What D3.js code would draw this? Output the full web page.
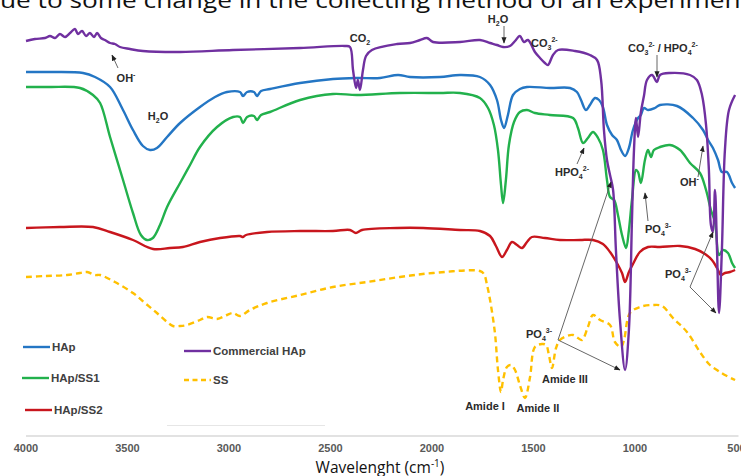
<!DOCTYPE html>
<html><head><meta charset="utf-8">
<script src="https://cdn.jsdelivr.net/npm/d3@7"></script>
<style>
html,body{margin:0;padding:0;background:#fff;overflow:hidden}
svg text{font-family:Arial,"Liberation Sans",sans-serif}
</style></head>
<body>
<svg id="c" width="741" height="476"></svg>
<script>
// Wavenumber (cm-1) vs transmittance (arbitrary, offset traces)
const commercialHAp = [[4000,395],[3956,397],[3906,398],[3882,400],[3857,398],[3833,402],[3808,399],[3783,403],[3759,407],[3744,402],[3724,405],[3704,400],[3685,403],[3665,399],[3650,403],[3631,398],[3611,396],[3586,393],[3562,392],[3537,389],[3488,387],[3424,385],[3241,384],[2980,386],[2650,388],[2429,390],[2404,389],[2389,366],[2374,348],[2365,356],[2355,346],[2340,366],[2325,380],[2296,386],[2172,392],[2108,393],[2059,396],[2025,398],[1995,394],[1862,394],[1764,396],[1714,393],[1680,391],[1650,389],[1616,390],[1591,395],[1567,400],[1547,394],[1527,396],[1493,384],[1468,378],[1444,373],[1429,371],[1404,381],[1379,386],[1296,385],[1222,381],[1187,376],[1167,356],[1153,306],[1138,276],[1123,261],[1108,246],[1094,186],[1074,116],[1049,66],[1030,106],[1015,216],[1005,286],[995,318],[985,299],[971,324],[956,340],[941,356],[916,361],[892,354],[877,361],[828,363],[729,361],[695,356],[670,341],[650,311],[636,266],[626,211],[616,204],[606,246],[596,186],[586,123],[572,186],[557,286],[537,326],[507,341]];
const hap = [[4000,364],[3882,364],[3719,363],[3660,359],[3586,349],[3527,328],[3473,306],[3424,290],[3389,286],[3355,288],[3305,299],[3241,313],[3143,329],[3069,339],[3010,344],[2946,344],[2931,340],[2911,344],[2877,344],[2862,340],[2842,345],[2798,347],[2650,353],[2488,357],[2370,358],[2256,358],[2167,361],[2108,359],[1961,359],[1862,361],[1764,359],[1714,351],[1680,336],[1660,316],[1645,308],[1626,321],[1601,341],[1567,347],[1532,349],[1419,348],[1320,348],[1286,344],[1266,336],[1242,326],[1222,331],[1197,338],[1177,336],[1158,329],[1138,311],[1113,301],[1089,296],[1069,286],[1049,280],[1030,288],[1010,306],[985,318],[971,321],[956,328],[936,326],[902,328],[877,331],[793,330],[714,318],[665,306],[640,296],[616,288],[591,276],[572,264],[547,264],[522,253],[507,248]];
const hapSS1 = [[4000,349],[3882,349],[3734,348],[3670,341],[3635,333],[3586,299],[3522,256],[3473,223],[3434,201],[3404,196],[3375,198],[3340,211],[3305,229],[3241,253],[3192,271],[3143,289],[3059,309],[2980,319],[2946,319],[2931,313],[2911,319],[2877,320],[2862,316],[2842,321],[2798,324],[2650,336],[2488,342],[2370,341],[2158,343],[1961,343],[1862,343],[1764,338],[1724,328],[1695,311],[1675,286],[1660,251],[1650,233],[1636,256],[1621,291],[1596,314],[1567,324],[1532,326],[1493,323],[1419,321],[1305,318],[1281,308],[1256,293],[1232,298],[1207,304],[1182,298],[1158,286],[1138,256],[1123,239],[1103,236],[1084,221],[1064,201],[1044,188],[1030,206],[1015,236],[995,266],[985,264],[971,253],[951,276],[936,286],[921,279],[907,286],[877,289],[828,291],[778,286],[729,273],[680,263],[650,246],[626,226],[606,214],[586,181],[567,186],[542,183],[522,173],[507,168]];
const hapSS2 = [[4000,208],[3833,209],[3670,209],[3586,204],[3473,196],[3374,187],[3291,188],[3227,189],[3143,194],[3044,198],[2946,200],[2931,199],[2916,201],[2813,204],[2650,205],[2488,205],[2404,206],[2375,203],[2345,206],[2172,208],[2044,208],[1862,206],[1764,205],[1714,200],[1685,190],[1655,179],[1631,186],[1606,194],[1581,191],[1557,188],[1532,194],[1508,199],[1444,198],[1370,196],[1271,196],[1207,196],[1158,192],[1123,184],[1089,173],[1064,163],[1049,154],[1030,164],[1010,172],[976,184],[936,189],[877,189],[778,190],[704,187],[655,182],[621,176],[596,168],[577,161],[557,163],[532,164],[507,166]];
const ss = [[4000,159],[3906,160],[3798,161],[3734,163],[3699,164],[3660,161],[3635,161],[3562,154],[3473,143],[3414,133],[3355,123],[3305,114],[3276,110],[3241,110],[3207,111],[3143,116],[3108,119],[3059,117],[3010,121],[2980,123],[2946,120],[2897,126],[2813,133],[2650,141],[2488,149],[2320,154],[2158,159],[1995,163],[1764,165],[1744,162],[1729,151],[1714,136],[1690,103],[1675,66],[1660,44],[1650,56],[1631,69],[1611,71],[1591,66],[1567,51],[1542,38],[1517,59],[1493,89],[1458,92],[1438,91],[1424,81],[1409,68],[1389,88],[1370,96],[1335,100],[1305,101],[1281,98],[1261,96],[1232,109],[1207,121],[1172,116],[1123,111],[1099,94],[1069,89],[1054,96],[1025,123],[976,129],[911,131],[867,130],[813,118],[744,104],[680,84],[631,71],[596,66],[557,61],[507,56]];

const xTicks = [4000,3500,3000,2500,2000,1500,1000,500];
const seriesNames = ["HAp","HAp/SS1","HAp/SS2","Commercial HAp","SS"];
const seriesColors = ["#2476c4","#22b14c","#c8161d","#7030a0","#ffc000"];

const svg = d3.select("#c");
const x = d3.scaleLinear().domain([4000,500]).range([26,736.5]);
const y = d3.scaleLinear().domain([0,436]).range([436,0]);

// cut-off caption line at top
svg.append("text").attr("x",0).attr("y",8).attr("font-size",21)
  .style("font-family","'Open Sans',sans-serif").attr("fill","#111")
  .attr("textLength",750).attr("lengthAdjust","spacingAndGlyphs")
  .text("ue to some change in the collecting method of an experiment");

// axis baseline
svg.append("line").attr("x1",x(4000)).attr("x2",x(500)+2).attr("y1",436).attr("y2",436)
  .attr("stroke","#d9d9d9").attr("stroke-width",1.5);
svg.append("line").attr("x1",167).attr("x2",325).attr("y1",425.5).attr("y2",425.5)
  .attr("stroke","#e6e6e6").attr("stroke-width",1);

// tick labels
svg.selectAll("text.tick").data(xTicks).enter().append("text").attr("class","tick")
  .attr("x",d=>x(d)).attr("y",452).attr("text-anchor","middle")
  .attr("font-size",11).attr("font-weight","bold").attr("fill","#595959").text(d=>d);

// axis title
const t = svg.append("text").attr("x",380).attr("y",473).attr("text-anchor","middle")
  .attr("font-size",15.5).style("font-family","'Open Sans',sans-serif").attr("fill","#111");
t.append("tspan").text("Wavelenght (cm");
t.append("tspan").attr("dy",-6).attr("font-size",10).text("-1");
t.append("tspan").attr("dy",6).text(")");

const line = d3.line().x(d=>x(d[0])).y(d=>y(d[1])).curve(d3.curveCatmullRom.alpha(0.5));
const all = [[hapSS2,2,null],[ss,4,"6,4"],[hapSS1,1,null],[hap,0,null],[commercialHAp,3,null]];
all.forEach(([data,ci,dash])=>{
  svg.append("path").datum(data).attr("d",line).attr("fill","none")
    .attr("stroke",seriesColors[ci]).attr("stroke-width",2.4)
    .attr("stroke-linejoin","round").attr("stroke-dasharray",dash);
});

// legend
const legend = [
  {i:0,x:23,y:347},{i:1,x:22,y:378},{i:2,x:25,y:410},{i:3,x:184,y:351},{i:4,x:184,y:380}];
legend.forEach(l=>{
  svg.append("line").attr("x1",l.x).attr("x2",l.x+27).attr("y1",l.y).attr("y2",l.y)
    .attr("stroke",seriesColors[l.i]).attr("stroke-width",2.4)
    .attr("stroke-dasharray",l.i===4?"5,3.5":null);
  svg.append("text").attr("x",l.x+29).attr("y",l.y+4).attr("font-size",11.5)
    .attr("font-weight","bold").attr("fill","#404040").text(seriesNames[l.i]);
});

// annotations
svg.append("defs").append("marker").attr("id","ah").attr("viewBox","0 0 10 10")
  .attr("refX",9).attr("refY",5).attr("markerWidth",7).attr("markerHeight",7)
  .attr("orient","auto").append("path").attr("d","M0,1L10,5L0,9Z").attr("fill","#222");
function arrow(x1,y1,x2,y2){
  svg.append("line").attr("x1",x1).attr("y1",y1).attr("x2",x2).attr("y2",y2)
    .attr("stroke","#555").attr("stroke-width",0.9).attr("marker-end","url(#ah)");
}
function label(xx,yy,parts,anchor){
  const tx = svg.append("text").attr("x",xx).attr("y",yy).attr("font-size",11)
    .attr("font-weight","bold").attr("fill","#2b2b2b").attr("text-anchor",anchor||"middle");
  parts.forEach(p=>{
    const s = tx.append("tspan").text(p[0]);
    if(p[1]==="sub"){s.attr("font-size",7).attr("baseline-shift",-3);}
    else if(p[1]==="sup"){s.attr("font-size",7).attr("baseline-shift",5);}
  });
  return tx;
}
label(126,82,[["OH"],["-","sup"]]);
arrow(118,68,112,55);
label(158,120,[["H"],["2","sub"],["O"]]);
label(360,42,[["CO"],["2","sub"]]);
label(498,23,[["H"],["2","sub"],["O"]]);
arrow(504,26,504,43);
label(531,47,[["CO"],["3","sub"],["2-","sup"]],"start");
label(628,52,[["CO"],["3","sub"],["2-","sup"],[" / HPO"],["4","sub"],["2-","sup"]],"start");
arrow(657,55,657,77);
label(555,176,[["HPO"],["4","sub"],["2-","sup"]],"start");
arrow(577,164,584,148);
label(645,233,[["PO"],["4","sub"],["3-","sup"]],"start");
arrow(648,221,645,193);
label(680,186,[["OH"],["-","sup"]],"start");
arrow(698,177,703,146);
label(665,278,[["PO"],["4","sub"],["3-","sup"]],"start");
arrow(690,287,713,232);
arrow(690,287,716,313);
label(526,338,[["PO"],["4","sub"],["3-","sup"]],"start");
arrow(558,340,611,182);
arrow(558,340,620,370);
label(565,383,[["Amide III"]]);
label(485,410,[["Amide I"]]);
label(538,412,[["Amide II"]]);
</script>
</body></html>
